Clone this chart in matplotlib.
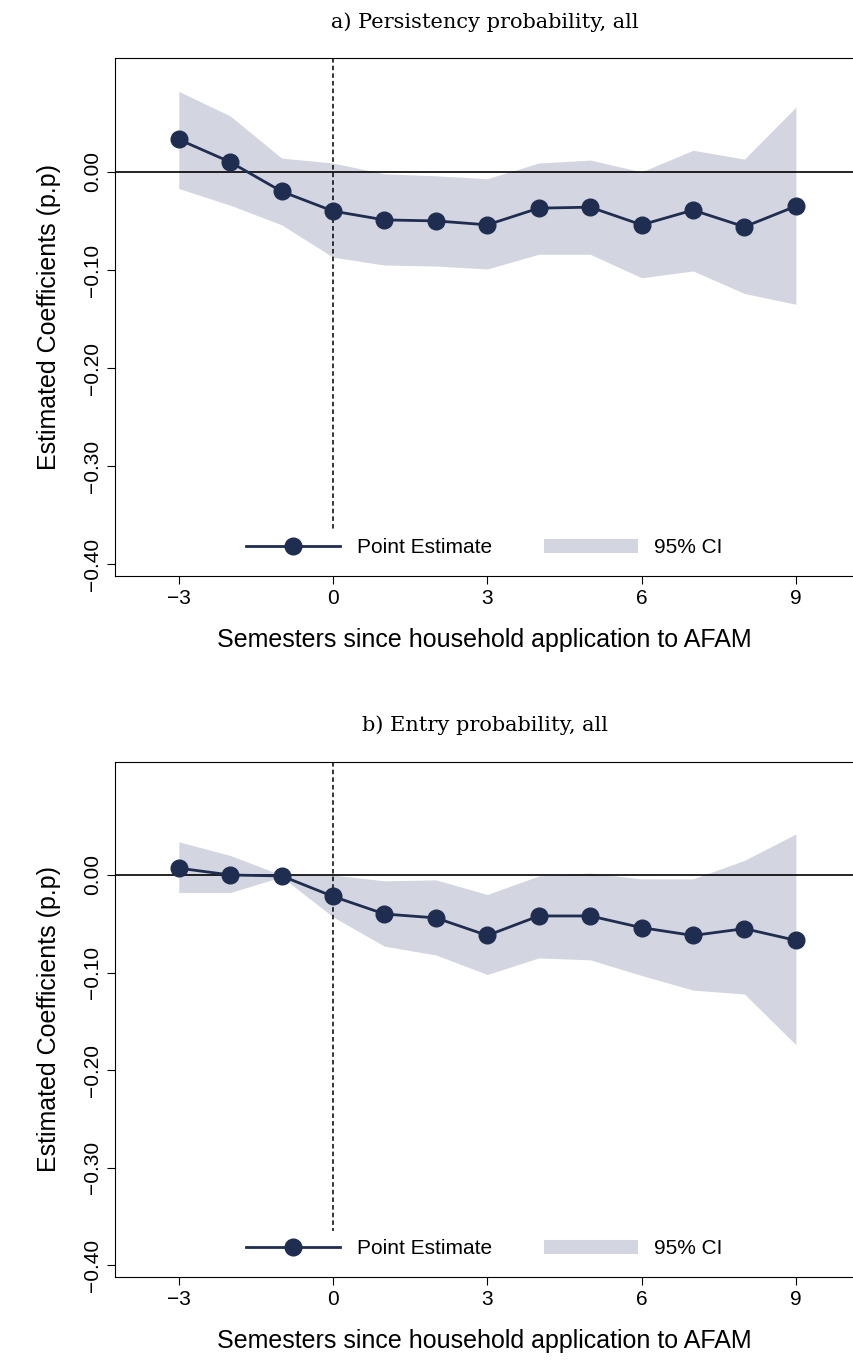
import matplotlib
matplotlib.use("Agg")
import matplotlib.pyplot as plt

plt.rcParams['font.family'] = ['Liberation Sans', 'DejaVu Sans']

semesters = [-3, -2, -1, 0, 1, 2, 3, 4, 5, 6, 7, 8, 9]

# a) Persistency probability
pers_est = [0.033, 0.010, -0.020, -0.040, -0.049, -0.050, -0.054, -0.037, -0.036, -0.054, -0.039, -0.056, -0.035]
pers_hi = [0.082, 0.057, 0.014, 0.009, -0.002, -0.004, -0.007, 0.009, 0.012, 0.000, 0.022, 0.013, 0.066]
pers_lo = [-0.017, -0.034, -0.054, -0.087, -0.095, -0.096, -0.099, -0.084, -0.084, -0.108, -0.101, -0.124, -0.135]

# b) Entry probability
entry_est = [0.007, 0.000, -0.001, -0.022, -0.040, -0.044, -0.062, -0.042, -0.042, -0.054, -0.062, -0.055, -0.067]
entry_hi = [0.034, 0.020, 0.000, 0.000, -0.006, -0.005, -0.020, -0.001, 0.002, -0.004, -0.004, 0.015, 0.042]
entry_lo = [-0.018, -0.018, -0.002, -0.043, -0.073, -0.082, -0.102, -0.085, -0.087, -0.103, -0.118, -0.122, -0.174]

yticks = [0.0, -0.1, -0.2, -0.3, -0.4]
ytick_labels = ['0.00', '\u22120.10', '\u22120.20', '\u22120.30', '\u22120.40']
xticks = [-3, 0, 3, 6, 9]
xtick_labels = ['\u22123', '0', '3', '6', '9']

LINE = '#1f2d50'
FILL = '#d3d6e0'

fig = plt.figure(figsize=(8.54, 13.63), dpi=100)
panels = [
    ([0.1347, 0.5774, 0.8653, 0.380], 'a) Persistency probability, all', pers_est, pers_lo, pers_hi),
    ([0.1347, 0.0631, 0.8653, 0.378], 'b) Entry probability, all', entry_est, entry_lo, entry_hi),
]

for rect, title, est, lo, hi in panels:
    ax = fig.add_axes(rect)
    ax.fill_between(semesters, lo, hi, color=FILL, lw=0, label='95% CI')
    ax.axhline(0, color='black', lw=1.2)
    ax.plot([0, 0], [0.116, -0.365], color='black', ls='--', lw=1.1, dashes=(3, 2))
    ax.plot(semesters, est, color=LINE, lw=2, marker='o', ms=12, label='Point Estimate')
    ax.set_xlim(-4.24, 10.13)
    ax.set_ylim(-0.412, 0.116)
    ax.set_xticks(xticks, xtick_labels, fontsize=15)
    ax.set_yticks(yticks, ytick_labels, fontsize=15, rotation=90, va='center')
    ax.tick_params(length=6)
    ax.set_xlabel('Semesters since household application to AFAM', fontsize=18, labelpad=14)
    ax.set_ylabel('Estimated Coefficients (p.p)', fontsize=18, labelpad=16)
    ax.set_title(title, fontsize=15, family='DejaVu Serif', pad=22)
    h, l = ax.get_legend_handles_labels()
    ax.legend([h[1], h[0]], [l[1], l[0]], loc='lower center', ncol=2, frameon=False,
              fontsize=15, handlelength=4.5, columnspacing=2.5, bbox_to_anchor=(0.5, 0.0))

fig.savefig('out.png', dpi=100)
